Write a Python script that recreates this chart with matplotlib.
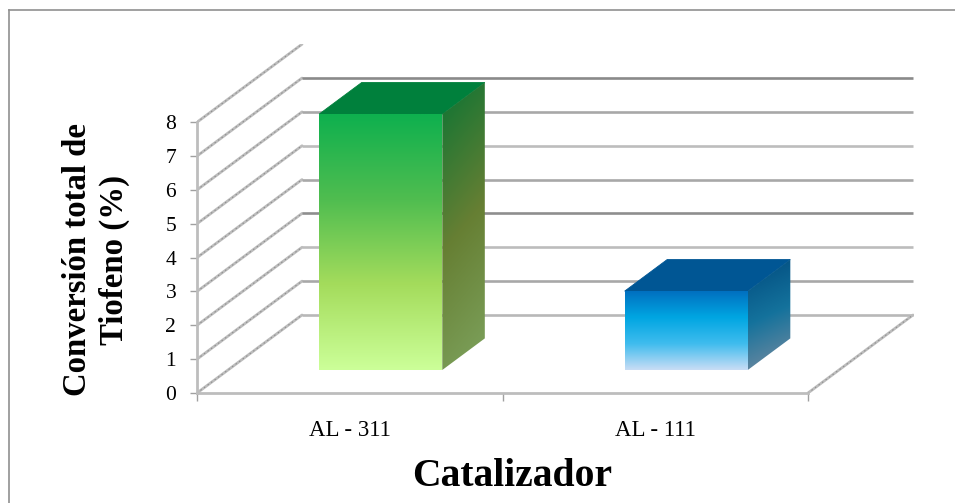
import numpy as np
import matplotlib
matplotlib.use("Agg")
import matplotlib.pyplot as plt
from matplotlib.colors import LinearSegmentedColormap
from matplotlib.lines import Line2D
from matplotlib.patches import Polygon

categories = ["AL - 311", "AL - 111"]
conversion = [7.56, 2.33]
value_ticks = [0, 1, 2, 3, 4, 5, 6, 7, 8]
grid_colors = ["#b8b8b8", "#a8a8a8", "#bcbcbc", "#8e8e8e", "#a8a8a8", "#bdbdbd", "#a8a8a8", "#8a8a8a"]

front_colors = [
    ["#ccff99", "#a4dc5c", "#50bd50", "#0eb04e"],
    ["#c9ddf5", "#3fbcee", "#00a6e2", "#0070c0"],
]
side_colors = [
    ["#7ea35e", "#667f33", "#0c7434"],
    ["#7a8ca0", "#14729c", "#004a7e"],
]
top_colors = ["#00803c", "#005694"]

W, H = 955, 503
LEFT, RIGHT, BOTTOM, TOP = 197.0, 914.0, 393.0, 44.0
CAT_PX = 305.5
VAL_PX = 33.85

# Oblique depth offset of the chart box, in data units
DEPTH_X = 105.0 / CAT_PX
DEPTH_Y = 78.0 / VAL_PX

plt.rcParams["font.family"] = ["Liberation Serif", "DejaVu Serif"]

fig = plt.figure(figsize=(W / 100, H / 100), dpi=100, facecolor="white")

# Frame of the chart area: only its top and left edges fall inside the canvas
fig.add_artist(Line2D([9 / W, 1], [1 - 10 / H, 1 - 10 / H], color="#909090", lw=1.2,
                      transform=fig.transFigure))
fig.add_artist(Line2D([9 / W, 9 / W], [0, 1 - 10 / H], color="#909090", lw=1.2,
                      transform=fig.transFigure))

ax = fig.add_axes([LEFT / W, 1 - BOTTOM / H, (RIGHT - LEFT) / W, (BOTTOM - TOP) / H])
ax.set_xlim(0, (RIGHT - LEFT) / CAT_PX)
ax.set_ylim(0, (BOTTOM - TOP) / VAL_PX)
ax.patch.set_alpha(0)


def project(x, y, depth):
    """Oblique projection of a category/value/depth point into data units."""
    return x + depth * DEPTH_X, y + depth * DEPTH_Y


def diagonal_line(start, end):
    """Grey wall edge with a fine grainy overlay."""
    xs, ys = zip(start, end)
    ax.plot(xs, ys, color="#bcbcbc", lw=2.0, zorder=1, solid_capstyle="round")
    ax.plot(xs, ys, color="#8a8a8a", lw=0.7, ls=(0, (1.5, 3.0)), zorder=1.1)


# Back wall gridlines, with the side-wall diagonals leading to them
n_cats = len(categories)
for value in value_ticks:
    diagonal_line(project(0, value, 0), project(0, value, 1))
    if value < len(grid_colors):
        xs, ys = zip(project(0, value, 1), project(n_cats, value, 1))
        ax.plot(xs, ys, color=grid_colors[value], lw=1.9, zorder=1, solid_capstyle="butt")

# Right edge of the floor
diagonal_line(project(n_cats, 0, 0), project(n_cats, 0, 1))


def gradient_face(points, gradient, colors, zorder):
    """Fill a polygon with a colour ramp clipped to its outline."""
    pts = np.array(points)
    cmap = LinearSegmentedColormap.from_list("face", colors)
    extent = (pts[:, 0].min(), pts[:, 0].max(), pts[:, 1].min(), pts[:, 1].max())
    image = ax.imshow(gradient, cmap=cmap, vmin=0, vmax=1, extent=extent, origin="lower",
                      aspect="auto", interpolation="bilinear", zorder=zorder)
    clip = Polygon(pts, closed=True, transform=ax.transData)
    image.set_clip_path(clip)


BAR_WIDTH = 0.403
D0, D1 = 0.295, 0.70
ramp = np.linspace(0, 1, 256)
vertical = ramp[:, None]
xx, yy = np.meshgrid(ramp, ramp)
diagonal = (1 - xx) * 0.15 + yy * 0.85

for i, value in enumerate(conversion):
    x0 = i + 0.5 - BAR_WIDTH / 2
    x1 = i + 0.5 + BAR_WIDTH / 2
    front = [project(x0, 0, D0), project(x1, 0, D0), project(x1, value, D0), project(x0, value, D0)]
    side = [project(x1, 0, D0), project(x1, 0, D1), project(x1, value, D1), project(x1, value, D0)]
    top = [project(x0, value, D0), project(x1, value, D0), project(x1, value, D1), project(x0, value, D1)]
    ax.add_patch(Polygon(np.array(top), closed=True, facecolor=top_colors[i],
                         edgecolor=top_colors[i], lw=0.6, zorder=3))
    gradient_face(side, diagonal, side_colors[i], 3)
    gradient_face(front, vertical, front_colors[i], 4)

ax.set_xlim(0, (RIGHT - LEFT) / CAT_PX)
ax.set_ylim(0, (BOTTOM - TOP) / VAL_PX)

# Axes, ticks and labels
for name in ("top", "right"):
    ax.spines[name].set_visible(False)
for name in ("left", "bottom"):
    ax.spines[name].set_color("#bdbdbd")
    ax.spines[name].set_linewidth(2.0)
    ax.spines[name].set_zorder(2)
ax.spines["left"].set_bounds(0, value_ticks[-1])
ax.spines["bottom"].set_bounds(0, n_cats)

ax.set_yticks(value_ticks)
ax.set_yticklabels([str(v) for v in value_ticks], fontsize=15.5)
ax.tick_params(axis="y", length=5, width=1.0, color="#a0a0a0", pad=10, labelcolor="black")
ax.set_xticks(np.arange(n_cats + 1))
ax.set_xticklabels([])
ax.tick_params(axis="x", which="major", length=6, width=1.0, color="#a0a0a0")
ax.set_xticks(np.arange(n_cats) + 0.5, minor=True)
ax.set_xticklabels(categories, minor=True, fontsize=16.5)
ax.tick_params(axis="x", which="minor", length=0, pad=19.5, labelcolor="black")

fig.text(512.5 / W, 1 - 476 / H, "Catalizador", fontsize=28.5, fontweight="bold",
         ha="center", va="center")
fig.text(96 / W, 1 - 260 / H, "Conversión total de\nTiofeno (%)", fontsize=23.6,
         fontweight="bold", rotation=90, ha="center", va="center", linespacing=1.2)

fig.savefig("out.png", dpi=100, facecolor="white")
